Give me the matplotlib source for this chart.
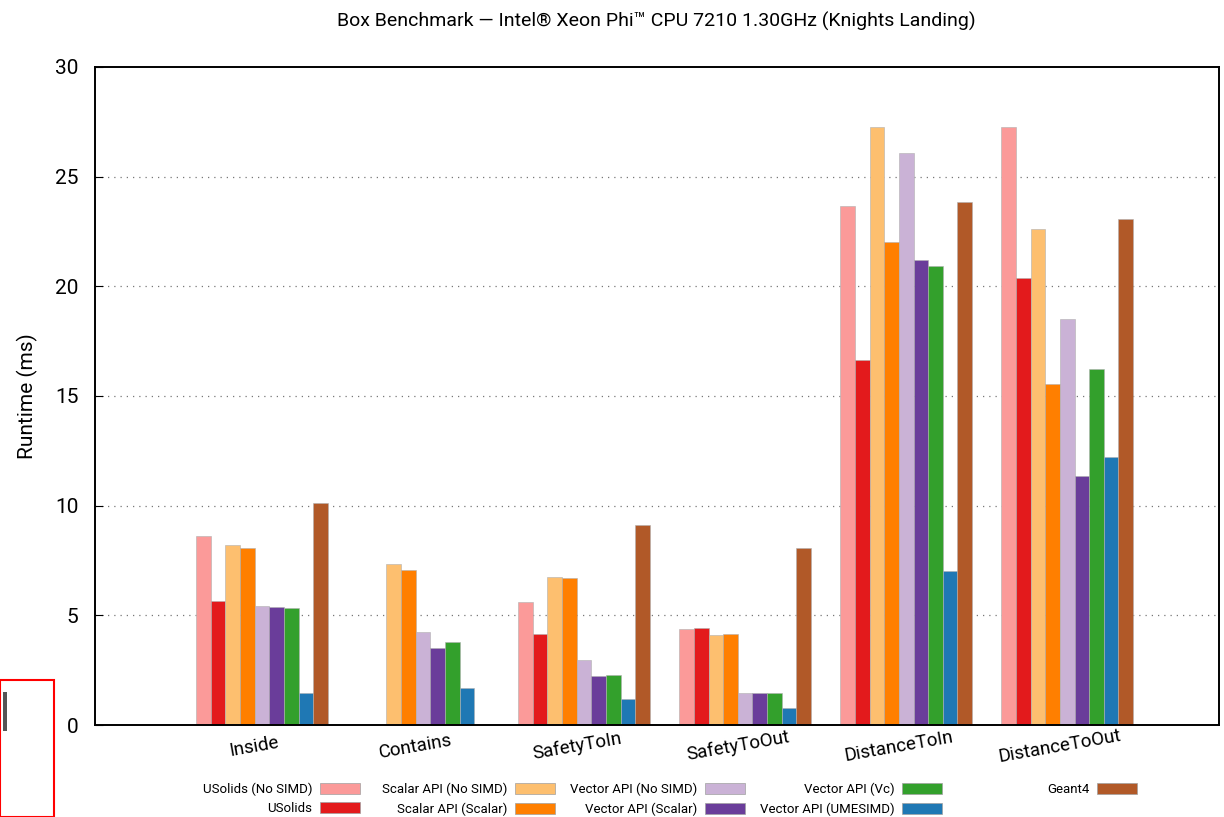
import matplotlib
matplotlib.use("Agg")
import matplotlib.pyplot as plt
from matplotlib.patches import Rectangle
from matplotlib.transforms import ScaledTranslation
import numpy as np

plt.rcParams["font.family"] = ["Roboto", "DejaVu Sans"]

categories = ["Inside", "Contains", "SafetyToIn", "SafetyToOut", "DistanceToIn", "DistanceToOut"]
series = [
    "USolids (No SIMD)", "USolids",
    "Scalar API (No SIMD)", "Scalar API (Scalar)",
    "Vector API (No SIMD)", "Vector API (Scalar)",
    "Vector API (Vc)", "Vector API (UMESIMD)",
    "Geant4",
]
colors = ["#fb9a99", "#e31a1c", "#fdbf6f", "#ff7f00", "#cab2d6",
          "#6a3d9a", "#33a02c", "#1f78b4", "#b15928"]

# runtime in ms, one list per series (nan = not measured)
usolids_nosimd = [8.62, np.nan, 5.60, 4.38, 23.67, 27.27]
usolids = [5.65, np.nan, 4.15, 4.42, 16.64, 20.38]
scalar_nosimd = [8.20, 7.34, 6.75, 4.10, 27.27, 22.62]
scalar_scalar = [8.07, 7.07, 6.70, 4.15, 22.02, 15.55]
vector_nosimd = [5.43, 4.24, 2.96, 1.46, 26.08, 18.51]
vector_scalar = [5.38, 3.51, 2.23, 1.46, 21.20, 11.35]
vector_vc = [5.33, 3.78, 2.28, 1.46, 20.93, 16.23]
vector_umesimd = [1.46, 1.69, 1.19, 0.78, 7.02, 12.22]
geant4 = [10.12, np.nan, 9.12, 8.07, 23.85, 23.07]

values = [usolids_nosimd, usolids, scalar_nosimd, scalar_scalar, vector_nosimd,
          vector_scalar, vector_vc, vector_umesimd, geant4]

fig = plt.figure(figsize=(12.24, 8.17), dpi=100)
ax = fig.add_axes([0.0776, 0.1126, 0.918, 0.8054])

x = np.arange(len(categories))
slot = 1.0 / 11
handles = []
for i, (name, vals, c) in enumerate(zip(series, values, colors)):
    ax.bar(x + (i - 4) * slot, vals, width=slot, color=c,
           edgecolor="#b0b0b0", linewidth=0.4, label=name)
    handles.append(Rectangle((0, 0), 1, 1, facecolor=c, edgecolor="#a0a0a0", linewidth=0.5))

ax.set_xlim(-1.037, 5.94)
ax.set_ylim(0, 30)
ax.set_yticks([0, 5, 10, 15, 20, 25, 30])
ax.tick_params(axis="y", direction="in", length=6, labelsize=15, pad=12)
ax.set_xticks(x)
ax.set_xticklabels(categories, rotation=10, ha="center", rotation_mode="anchor", fontsize=13.5)
ax.tick_params(axis="x", direction="in", length=0, pad=9)
shift = ScaledTranslation(-9 / 100, 0, fig.dpi_scale_trans)
for lbl in ax.get_xticklabels():
    lbl.set_transform(lbl.get_transform() + shift)
for sp in ax.spines.values():
    sp.set_linewidth(1.4)
ax.grid(axis="y", linestyle=(0, (1, 4)), color="#777777", linewidth=0.9)
ax.set_axisbelow(True)
for gl in ax.get_ygridlines()[:1] + ax.get_ygridlines()[-1:]:
    gl.set_visible(False)

ax.set_ylabel("Runtime (ms)", fontsize=15, labelpad=12)
fig.text(0.536, 0.974, "Box Benchmark \u2014 Intel\u00ae Xeon Phi\u2122 CPU 7210 1.30GHz (Knights Landing)",
         ha="center", va="center", fontsize=14)

# legend: five columns, text left of the colour box
col_right = [360, 555, 745, 942, 1137]
groups = [[0, 1], [2, 3], [4, 5], [6, 7], [8]]
for xr, idx in zip(col_right, groups):
    leg = fig.legend([handles[k] for k in idx], [series[k] for k in idx],
                     loc="upper right", bbox_to_anchor=(xr / 1224, 1 - 783 / 817),
                     frameon=False, markerfirst=False, fontsize=9.5,
                     handlelength=3.0, handleheight=0.9, handletextpad=0.6,
                     labelspacing=0.45, borderpad=0, borderaxespad=0)
    for t in leg.get_texts():
        t.set_ha("right")

# screenshot artefacts at lower left
fig.add_artist(Rectangle((0, 0), 54 / 1224, 137 / 817, transform=fig.transFigure,
                         fill=False, edgecolor="#ff0000", linewidth=1.5))
fig.add_artist(Rectangle((3 / 1224, 86 / 817), 4 / 1224, 39 / 817, transform=fig.transFigure,
                         facecolor="#555555", edgecolor="none"))

fig.savefig("out.png", dpi=100)
